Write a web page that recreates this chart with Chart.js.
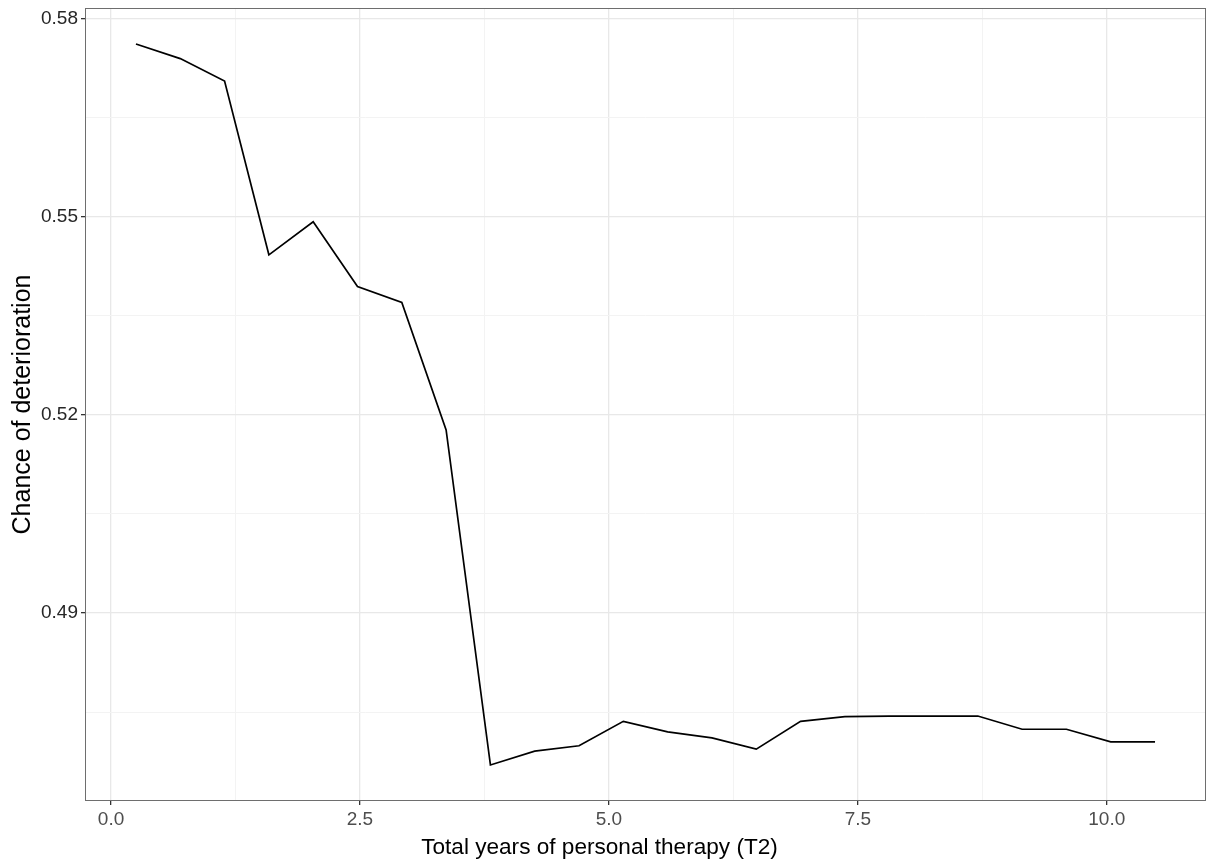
<!DOCTYPE html>
<html>
<head>
<meta charset="utf-8">
<script src="https://cdn.jsdelivr.net/npm/chart.js@4.4.1/dist/chart.umd.min.js"></script>
<style>
  html, body { margin: 0; padding: 0; background: #fff; }
  #wrap { width: 1207px; height: 861px; position: relative; }
</style>
</head>
<body>
<div id="wrap"><canvas id="chart"></canvas></div>
<script>
// Partial dependence: chance of deterioration vs. total years of personal therapy (T2)
const years = [0.25, 0.695, 1.14, 1.585, 2.03, 2.475, 2.92, 3.365, 3.81, 4.255, 4.70, 5.145,
               5.59, 6.035, 6.48, 6.925, 7.37, 7.815, 8.26, 8.705, 9.15, 9.595, 10.04, 10.485];
const chance = [0.5761, 0.5739, 0.5705, 0.5442, 0.5492, 0.5394, 0.5370, 0.5177, 0.4670, 0.4691,
                0.4699, 0.4736, 0.4720, 0.4711, 0.4694, 0.4736, 0.4743, 0.4744, 0.4744, 0.4744,
                0.4724, 0.4724, 0.4705, 0.4705];

const xMajor = [0, 2.5, 5, 7.5, 10];
const xMinor = [1.25, 3.75, 6.25, 8.75];
const xLabels = ['0.0', '2.5', '5.0', '7.5', '10.0'];
const yMajor = [0.49, 0.52, 0.55, 0.58];
const yMinor = [0.475, 0.505, 0.535, 0.565];
const yLabels = ['0.49', '0.52', '0.55', '0.58'];

const FONT = "'Liberation Sans', Arial, sans-serif";
const X_TITLE = 'Total years of personal therapy (T2)';

// ggplot-style 5% expansion around the data range
function expand(vals, mult = 0.05) {
  const lo = Math.min(...vals), hi = Math.max(...vals);
  const pad = (hi - lo) * mult;
  return { min: lo - pad, max: hi + pad };
}
const xLim = expand(years);
const yLim = expand(chance);

function setTicks(major, minor) {
  return scale => {
    scale.ticks = [...major, ...minor].sort((a, b) => a - b).map(v => ({ value: v }));
  };
}
function labelFor(major, labels) {
  return v => {
    const i = major.findIndex(m => Math.abs(m - v) < 1e-9);
    return i >= 0 ? labels[i] : '';
  };
}
function isMajor(major, v) {
  return major.some(m => Math.abs(m - v) < 1e-9);
}

// panel border + x-axis title
const panelFrame = {
  id: 'panelFrame',
  afterDraw(chart) {
    const { ctx, chartArea: a } = chart;
    ctx.save();
    ctx.strokeStyle = '#6e6e6e';
    ctx.lineWidth = 1;
    ctx.strokeRect(a.left + 0.5, a.top + 0.5, a.right - a.left - 1, a.bottom - a.top - 1);

    ctx.fillStyle = '#000';
    ctx.font = '22.6px ' + FONT;
    ctx.textAlign = 'center';
    ctx.textBaseline = 'middle';
    ctx.fillText(X_TITLE, (a.left + a.right) / 2 - 46, 848);
    ctx.restore();
  }
};

new Chart(document.getElementById('chart'), {
  type: 'scatter',
  data: {
    datasets: [{
      data: years.map((x, i) => ({ x, y: chance[i] })),
      showLine: true,
      borderColor: '#000',
      borderWidth: 1.7,
      pointRadius: 0,
      tension: 0,
      fill: false,
    }]
  },
  options: {
    responsive: true,
    maintainAspectRatio: false,
    animation: false,
    layout: { padding: { top: 8, right: 1, left: 0, bottom: 0 } },
    plugins: { legend: { display: false }, tooltip: { enabled: false } },
    scales: {
      x: {
        type: 'linear',
        min: xLim.min, max: xLim.max,
        afterBuildTicks: setTicks(xMajor, xMinor),
        afterFit: s => { s.height = 60; s.paddingLeft = 0; s.paddingRight = 0; },
        border: { display: false },
        grid: {
          color: c => isMajor(xMajor, c.tick.value) ? '#e8e8e8' : '#f3f3f3',
          lineWidth: c => isMajor(xMajor, c.tick.value) ? 1.3 : 1,
          tickColor: c => isMajor(xMajor, c.tick.value) ? '#333' : 'rgba(0,0,0,0)',
          tickLength: 4,
        },
        ticks: {
          autoSkip: false, maxRotation: 0, padding: 3,
          color: '#4d4d4d', font: { family: FONT, size: 19 },
          callback: labelFor(xMajor, xLabels),
        },
      },
      y: {
        type: 'linear',
        min: yLim.min, max: yLim.max,
        afterBuildTicks: setTicks(yMajor, yMinor),
        afterFit: s => { s.width = 85; s.paddingTop = 0; s.paddingBottom = 0; },
        border: { display: false },
        grid: {
          color: c => isMajor(yMajor, c.tick.value) ? '#e8e8e8' : '#f3f3f3',
          lineWidth: c => isMajor(yMajor, c.tick.value) ? 1.3 : 1,
          tickColor: c => isMajor(yMajor, c.tick.value) ? '#333' : 'rgba(0,0,0,0)',
          tickLength: 4,
        },
        ticks: {
          autoSkip: false, padding: 3,
          color: '#262626', font: { family: FONT, size: 19 },
          callback: labelFor(yMajor, yLabels),
        },
        title: {
          display: true, text: 'Chance of deterioration',
          color: '#000', font: { family: FONT, size: 25 },
          padding: { top: 8, bottom: 0 },
        },
      },
    },
  },
  plugins: [panelFrame],
});
</script>
</body>
</html>
